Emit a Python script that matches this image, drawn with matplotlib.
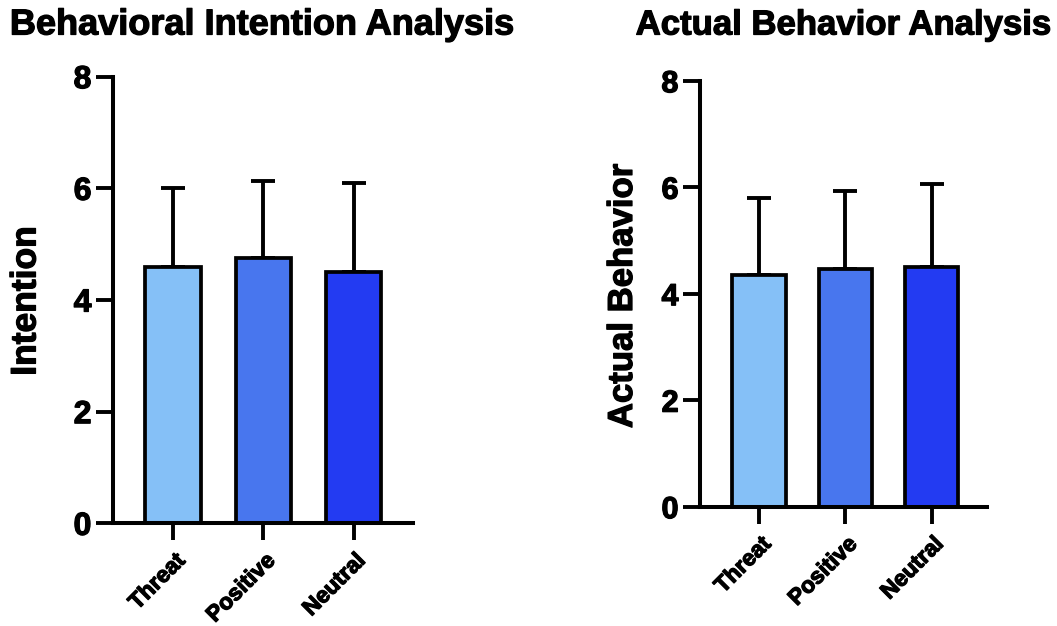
import matplotlib
matplotlib.use("Agg")
import matplotlib.pyplot as plt
import matplotlib.patheffects as pe
import numpy as np

plt.rcParams['font.family'] = ['Liberation Sans', 'DejaVu Sans']
plt.rcParams['font.weight'] = 'bold'

categories = ["Threat", "Positive", "Neutral"]
colors = ["#85C0F7", "#4876EE", "#233BF2"]

intention_mean = [4.59, 4.75, 4.50]
intention_err = [1.41, 1.39, 1.59]

actual_mean = [4.35, 4.46, 4.50]
actual_err = [1.45, 1.47, 1.57]

yticks = [0, 2, 4, 6, 8]

heavy = [pe.withStroke(linewidth=0.9, foreground='black')]

fig = plt.figure(figsize=(10.57, 6.26), dpi=100)

def panel(rect, means, errs, xlim, fs_tick):
    ax = fig.add_axes(rect)
    x = np.arange(len(categories))
    ax.bar(x, means, width=0.62, color=colors, edgecolor='black',
           linewidth=2.7, zorder=2)
    ax.errorbar(x, means, yerr=[np.zeros(len(errs)), errs], fmt='none',
                ecolor='black', elinewidth=2.8, capsize=8.5, capthick=2.8,
                zorder=1)
    ax.set_ylim(0, 8)
    ax.set_xlim(*xlim)
    ax.set_yticks(yticks)
    ax.set_yticklabels([str(t) for t in yticks], fontsize=fs_tick,
                       fontweight='bold')
    ax.set_xticks(x)
    ax.set_xticklabels(categories, rotation=45, ha='right',
                       rotation_mode='anchor', fontsize=16.3,
                       fontweight='bold')
    for lab in ax.get_xticklabels() + ax.get_yticklabels():
        lab.set_path_effects(heavy)
    for s in ['top', 'right']:
        ax.spines[s].set_visible(False)
    for s in ['left', 'bottom']:
        ax.spines[s].set_linewidth(2.9)
    ax.tick_params(axis='both', length=12.5, width=2.8, pad=3)
    ax.tick_params(axis='x', pad=6)
    return ax

ax1 = panel([0.1069, 0.164, 0.2838, 0.7135], intention_mean, intention_err,
            (-0.67, 2.66), 23)
ax2 = panel([0.6623, 0.1906, 0.2712, 0.6804], actual_mean, actual_err,
            (-0.686, 2.64), 22)

t1 = fig.text(262 / 1057, 1 - 25 / 626, "Behavioral Intention Analysis",
              ha='center', va='center', fontsize=26, fontweight='bold')
t2 = fig.text(843.5 / 1057, 1 - 25 / 626, "Actual Behavior Analysis",
              ha='center', va='center', fontsize=25, fontweight='bold')

t3 = fig.text(26 / 1057, 1 - 301 / 626, "Intention", rotation=90,
              ha='center', va='center', fontsize=25.5, fontweight='bold')
t4 = fig.text(622.5 / 1057, 1 - 296 / 626, "Actual Behavior", rotation=90,
              ha='center', va='center', fontsize=25, fontweight='bold')
for t in (t1, t2, t3, t4):
    t.set_path_effects(heavy)

fig.savefig("out.png", dpi=100)
